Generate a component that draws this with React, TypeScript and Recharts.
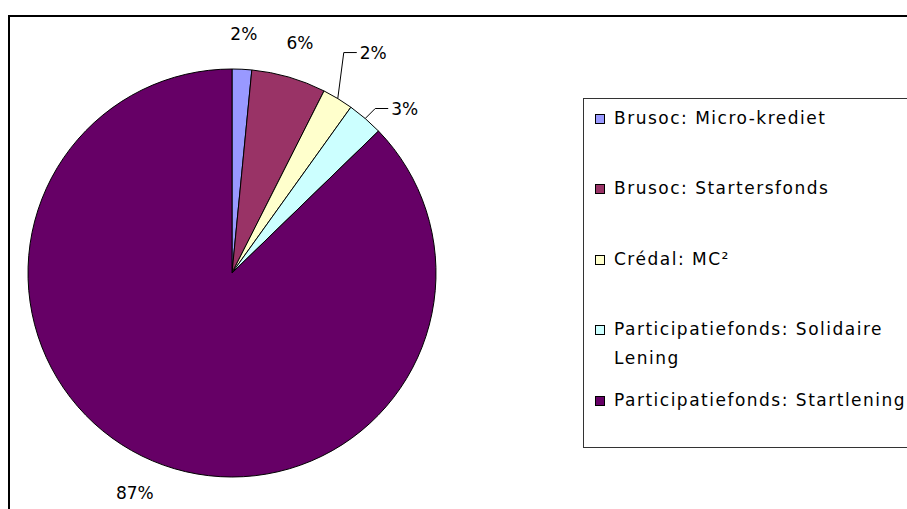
import React from "react";
import { Cell, Legend, Pie, PieChart } from "recharts";

const categories = [
  "Brusoc: Micro-krediet",
  "Brusoc: Startersfonds",
  "Crédal: MC²",
  "Participatiefonds: Solidaire Lening",
  "Participatiefonds: Startlening",
];
const shares = [1.55, 5.9, 2.45, 2.85, 87.25];
const colors = ["#9999FF", "#993366", "#FFFFCC", "#CCFFFF", "#660066"];

const data = categories.map((name, i) => ({ name, value: shares[i] }));

const FONT = "'DejaVu Sans', Verdana, sans-serif";
const RADIAN = Math.PI / 180;

// small slices get an elbow leader line like Excel does
const leaders: Record<string, { dx: number; dy: number }> = {
  "Crédal: MC²": { dx: 6, dy: -46 },
  "Participatiefonds: Solidaire Lening": { dx: 10, dy: -10 },
};

function renderLabel(props: any) {
  const { cx, cy, midAngle, outerRadius, percent, name } = props;
  const text = `${Math.round(percent * 100)}%`;
  const ux = Math.cos(-midAngle * RADIAN);
  const uy = Math.sin(-midAngle * RADIAN);
  const leader = leaders[name];

  if (leader) {
    const sx = cx + outerRadius * ux;
    const sy = cy + outerRadius * uy;
    const ex = sx + leader.dx;
    const ey = sy + leader.dy;
    return (
      <g>
        <polyline
          points={`${sx},${sy} ${ex},${ey} ${ex + 13},${ey}`}
          fill="none"
          stroke="#000"
          strokeWidth={1}
        />
        <text
          x={ex + 16}
          y={ey}
          textAnchor="start"
          dominantBaseline="central"
          fontFamily={FONT}
          fontSize={17}
          fill="#000"
        >
          {text}
        </text>
      </g>
    );
  }

  const w = text.length * 11.5;
  const h = 14;
  const r = outerRadius + 28;
  const x = cx + r * ux + (ux * w) / 2;
  const y = cy + r * uy + (uy * h) / 2;
  return (
    <text
      x={x}
      y={y}
      textAnchor="middle"
      dominantBaseline="central"
      fontFamily={FONT}
      fontSize={17}
      fill="#000"
    >
      {text}
    </text>
  );
}

function LegendBox({ payload }: { payload?: any[] }) {
  const items = payload ?? [];
  return (
    <div
      style={{
        position: "relative",
        width: 340,
        height: 350,
        border: "1px solid #333",
        background: "#fff",
        boxSizing: "border-box",
        fontFamily: FONT,
        fontSize: 17,
        letterSpacing: 1.5,
        color: "#000",
      }}
    >
      {items.map((item, i) => (
        <div
          key={item.value}
          style={{
            position: "absolute",
            left: 11,
            top: 20 + i * 70.5 - 15.5,
            display: "flex",
            alignItems: "flex-start",
          }}
        >
          <span
            style={{
              width: 10,
              height: 10,
              marginTop: 10,
              border: "1px solid #000",
              background: item.color,
              boxSizing: "border-box",
              flex: "none",
            }}
          />
          <span style={{ marginLeft: 9, width: 300, lineHeight: "29px" }}>
            {item.value}
          </span>
        </div>
      ))}
    </div>
  );
}

export default function App() {
  return (
    <div
      style={{
        position: "fixed",
        left: 0,
        top: 0,
        width: 907,
        height: 509,
        overflow: "hidden",
        background: "#fff",
      }}
    >
      <div
        style={{
          position: "absolute",
          left: 8,
          top: 15,
          width: 960,
          height: 560,
          border: "2px solid #000",
          boxSizing: "border-box",
        }}
      />
      <div style={{ position: "absolute", left: 0, top: 0 }}>
        <PieChart width={907} height={509} margin={{ top: 0, right: 0, bottom: 0, left: 0 }}>
          <Pie
            data={data}
            dataKey="value"
            nameKey="name"
            cx={232}
            cy={273}
            outerRadius={204}
            startAngle={90}
            endAngle={-270}
            stroke="#000"
            strokeWidth={1}
            label={renderLabel}
            labelLine={false}
            isAnimationActive={false}
          >
            {data.map((d, i) => (
              <Cell key={d.name} fill={colors[i]} />
            ))}
          </Pie>
          <Legend
            layout="vertical"
            content={<LegendBox />}
            wrapperStyle={{ position: "absolute", left: 583, top: 98, width: 340, height: 350 }}
          />
        </PieChart>
      </div>
    </div>
  );
}
